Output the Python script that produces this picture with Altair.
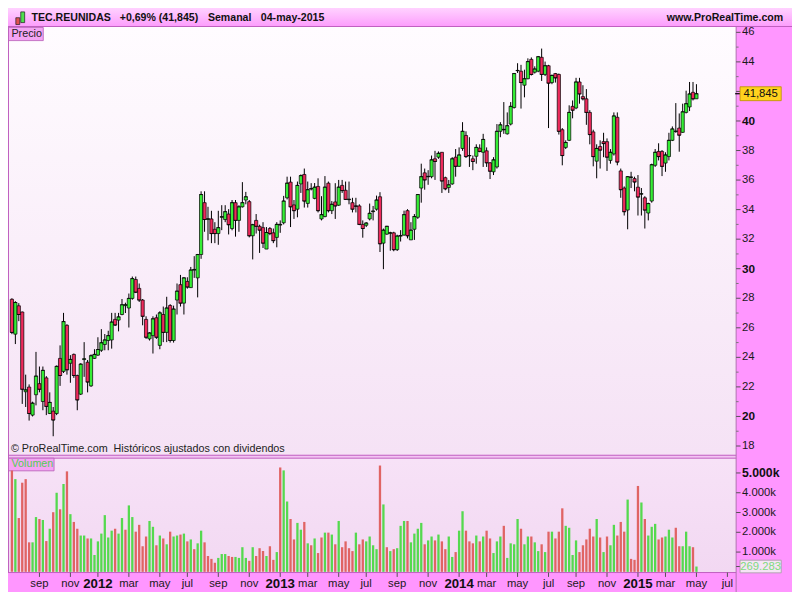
import altair as alt
import pandas as pd

# ------------------------------------------------------------------ data
START = "2011-07-11"   # first weekly candle (Monday)

opens = [27.93, 25.57, 27.49, 27.07, 21.67, 21.99, 20.09, 21.47, 22.22, 21.01,
         22.61, 20.20, 20.36, 20.20, 23.93, 23.05, 26.17, 23.60, 24.20, 22.77,
         21.51, 23.85, 23.67, 22.07, 23.93, 24.15, 24.48, 24.87, 25.14, 25.18,
         26.57, 26.52, 26.90, 27.50, 27.34, 27.99, 29.27, 28.67, 27.88, 26.57,
         25.25, 25.47, 26.68, 24.81, 26.90, 25.69, 27.51, 25.14, 27.88, 28.92,
         27.67, 29.14, 28.72, 29.90, 29.38, 30.96, 34.47, 33.33, 33.37, 32.67,
         32.38, 33.48, 33.33, 33.70, 32.72, 34.47, 33.27, 34.19, 34.65, 34.54,
         32.23, 33.27, 32.87, 32.78, 31.33, 32.72, 32.43, 32.12, 32.95, 33.11,
         34.80, 35.86, 34.32, 34.03, 35.74, 36.38, 34.42, 35.40, 34.76, 35.57,
         33.37, 33.53, 35.79, 33.93, 34.52, 34.30, 35.64, 35.31, 34.67, 34.47,
         34.25, 34.25, 33.00, 32.94, 33.37, 33.86, 34.03, 34.87, 31.73, 32.34,
         32.40, 32.43, 31.29, 32.20, 32.28, 33.93, 31.95, 32.67, 33.48, 35.46,
         36.49, 36.22, 36.23, 37.44, 37.55, 37.88, 36.16, 35.50, 35.74, 37.55,
         36.93, 38.14, 39.02, 37.64, 37.44, 37.61, 38.16, 37.88, 37.98, 37.17,
         36.56, 36.89, 39.30, 39.40, 39.13, 39.79, 40.91, 43.40, 43.37, 42.42,
         42.86, 44.17, 43.30, 43.37, 44.31, 43.15, 43.74, 42.60, 43.21, 43.15,
         39.41, 38.21, 38.69, 40.99, 40.88, 42.64, 41.65, 41.50, 40.58, 39.26,
         37.28, 38.27, 38.60, 38.60, 37.33, 37.77, 40.25, 36.62, 35.46, 33.97,
         36.18, 36.10, 35.52, 35.05, 34.80, 33.77, 34.58, 37.00, 37.94, 37.94,
         37.15, 37.59, 38.69, 39.28, 39.52, 39.23, 40.58, 40.95, 41.94, 41.50]

highs = [28.00, 27.80, 27.67, 27.10, 22.83, 22.17, 21.00, 24.37, 23.38, 23.38,
         22.73, 21.63, 20.64, 23.45, 24.81, 27.01, 26.24, 24.15, 24.26, 22.83,
         23.60, 25.03, 23.82, 24.20, 24.55, 25.36, 25.91, 25.58, 25.80, 27.01,
         27.01, 27.01, 27.95, 27.70, 28.32, 29.47, 29.47, 29.00, 27.95, 26.78,
         25.70, 26.78, 26.90, 27.12, 27.44, 28.10, 27.60, 27.50, 29.00, 29.58,
         29.42, 29.42, 30.12, 30.85, 31.00, 35.24, 35.24, 34.19, 33.92, 33.15,
         33.92, 34.30, 34.30, 34.03, 34.65, 34.65, 34.30, 35.86, 35.20, 34.65,
         33.04, 33.70, 32.98, 33.15, 32.82, 32.82, 32.72, 33.15, 33.27, 34.93,
         36.23, 36.23, 34.65, 35.90, 36.38, 36.78, 35.90, 35.79, 35.80, 36.12,
         34.91, 36.27, 35.90, 34.58, 35.79, 36.01, 36.01, 35.90, 35.90, 34.80,
         34.80, 34.36, 33.27, 33.15, 34.41, 34.25, 34.95, 35.18, 32.72, 32.90,
         32.50, 32.50, 32.30, 32.61, 33.93, 34.03, 33.15, 33.70, 35.05, 37.11,
         36.78, 36.67, 37.66, 37.98, 37.94, 37.90, 36.23, 36.01, 37.55, 38.10,
         38.21, 39.92, 39.30, 38.90, 37.66, 38.42, 38.42, 39.13, 38.21, 37.22,
         37.55, 39.79, 39.92, 41.28, 40.58, 41.28, 43.25, 43.91, 43.80, 43.47,
         44.24, 44.30, 43.70, 44.40, 44.90, 44.02, 43.80, 43.15, 43.25, 43.21,
         39.52, 38.69, 41.06, 41.39, 42.92, 42.92, 42.42, 42.16, 40.73, 39.41,
         38.42, 38.69, 39.20, 38.82, 38.10, 40.58, 40.58, 36.78, 35.57, 36.27,
         36.56, 36.23, 36.34, 35.46, 34.91, 34.47, 37.11, 38.10, 38.49, 38.03,
         37.88, 39.20, 39.63, 41.21, 40.51, 41.17, 42.05, 42.64, 42.64, 42.49]

lows = [25.57, 24.90, 26.45, 20.85, 20.64, 19.72, 20.00, 20.75, 21.63, 20.42,
        20.09, 20.16, 18.66, 20.09, 22.07, 22.94, 22.83, 22.28, 22.61, 20.42,
        21.45, 22.68, 21.63, 22.00, 23.90, 24.10, 24.37, 24.48, 24.48, 24.59,
        26.12, 25.76, 26.85, 27.00, 26.02, 27.90, 28.35, 27.75, 26.17, 25.25,
        25.14, 24.26, 25.25, 24.55, 25.03, 25.03, 25.00, 25.00, 26.90, 27.44,
        26.90, 28.65, 28.70, 29.38, 28.06, 30.67, 32.50, 31.92, 31.73, 31.73,
        31.62, 32.61, 33.15, 32.32, 32.60, 32.17, 32.50, 34.14, 34.36, 32.12,
        30.63, 32.38, 31.07, 31.40, 31.33, 32.27, 31.73, 31.45, 32.43, 33.00,
        34.69, 32.82, 33.37, 33.48, 35.13, 34.14, 34.14, 35.30, 34.70, 33.81,
        33.27, 33.48, 33.81, 33.70, 33.37, 34.25, 35.13, 34.65, 34.36, 33.81,
        33.81, 32.95, 32.10, 32.82, 33.27, 33.27, 33.93, 31.13, 29.97, 32.30,
        31.22, 31.18, 31.20, 31.84, 32.23, 32.05, 31.95, 31.95, 33.37, 34.47,
        35.35, 35.68, 36.12, 36.01, 37.44, 35.13, 35.31, 35.13, 35.68, 36.23,
        36.90, 37.98, 37.50, 36.89, 36.67, 37.11, 37.88, 36.89, 36.89, 36.07,
        36.34, 36.78, 38.90, 39.13, 39.08, 39.70, 40.84, 43.25, 40.84, 41.60,
        42.82, 43.08, 43.21, 43.30, 42.71, 43.04, 39.52, 42.49, 42.60, 39.08,
        37.00, 38.10, 38.64, 40.18, 40.80, 41.17, 41.39, 39.74, 38.42, 36.93,
        36.12, 36.78, 37.55, 36.62, 37.11, 37.66, 37.00, 34.80, 33.60, 32.67,
        35.46, 35.24, 33.60, 33.60, 32.72, 33.27, 34.47, 36.89, 37.33, 36.27,
        36.56, 37.33, 38.64, 39.20, 37.92, 39.20, 40.51, 40.67, 41.39, 41.50]

closes = [25.69, 27.71, 26.90, 21.84, 21.80, 20.20, 20.90, 22.73, 21.84, 23.12,
          20.68, 20.95, 19.76, 23.39, 22.77, 26.42, 23.16, 23.86, 22.77, 21.12,
          23.54, 23.90, 22.33, 24.11, 24.20, 24.53, 24.99, 25.18, 25.47, 26.39,
          26.19, 26.74, 27.56, 27.56, 27.99, 29.33, 28.41, 27.88, 26.78, 25.36,
          25.65, 26.61, 25.36, 27.01, 25.69, 27.34, 25.14, 27.27, 28.48, 27.67,
          29.38, 28.76, 29.91, 29.95, 30.96, 35.02, 33.33, 33.38, 32.38, 32.38,
          32.78, 33.52, 33.86, 32.98, 34.47, 33.27, 34.19, 34.47, 34.87, 32.23,
          32.98, 32.87, 32.61, 31.73, 32.45, 32.38, 31.90, 33.00, 33.00, 34.58,
          35.79, 34.19, 33.93, 35.64, 36.30, 34.58, 35.35, 35.42, 35.52, 33.93,
          33.66, 35.52, 33.93, 34.36, 34.25, 35.52, 35.29, 34.69, 34.70, 34.03,
          34.23, 33.00, 32.72, 33.09, 33.75, 33.90, 34.65, 31.69, 32.61, 32.87,
          32.43, 31.29, 32.21, 32.25, 33.66, 32.23, 32.61, 33.53, 35.02, 36.23,
          36.01, 36.25, 37.37, 37.26, 37.81, 35.94, 35.41, 35.68, 37.44, 36.93,
          37.70, 39.30, 37.59, 37.66, 37.26, 38.21, 37.94, 38.75, 37.17, 36.60,
          37.37, 39.30, 39.74, 39.43, 39.68, 40.99, 43.21, 43.42, 42.60, 42.86,
          44.02, 43.15, 43.52, 44.35, 43.15, 43.74, 42.56, 43.08, 42.92, 39.30,
          37.66, 38.54, 40.58, 40.73, 42.64, 41.83, 41.50, 40.58, 39.08, 37.59,
          38.14, 38.03, 38.47, 37.55, 37.88, 40.34, 37.22, 35.35, 33.86, 36.23,
          36.20, 35.87, 34.85, 35.07, 33.97, 34.41, 37.04, 37.88, 37.59, 36.93,
          37.70, 38.69, 39.46, 39.31, 39.04, 40.62, 41.17, 41.83, 41.50, 41.845]

# weekly volume, thousands of shares
volumes = [5130, 4688, 2721, 4507, 4688, 1492, 1492, 2770, 2672, 2622,
           1557, 2180, 3016, 3999, 3163, 4442, 5081, 2917, 2524, 2180,
           1836, 1836, 1688, 1688, 852, 1541, 1934, 2868, 1737, 2082,
           2180, 1934, 2721, 2131, 3360, 2770, 2032, 2377, 1295, 1787,
           2573, 2278, 1344, 1836, 1688, 1393, 2032, 1787, 1836, 1885,
           1934, 1541, 1639, 1147, 1442, 2082, 1492, 803, 656, 459,
           705, 901, 901, 803, 754, 754, 705, 1246, 705, 557,
           1246, 803, 1196, 1049, 803, 1295, 606, 1000, 5278, 5130,
           3557, 2672, 1639, 2475, 2131, 2524, 1442, 1344, 1688, 951,
           1737, 1983, 1983, 1885, 1393, 2573, 1246, 1541, 1196, 1049,
           1983, 1393, 1639, 1541, 1787, 1344, 1147, 5376, 3409, 1246,
           1049, 1147, 1196, 2327, 2573, 2573, 1492, 1934, 2180, 2475,
           1393, 1590, 1787, 1590, 1885, 1541, 1147, 1787, 754, 1000,
           2082, 3065, 2082, 1541, 1442, 1836, 1541, 1787, 2082, 1688,
           951, 1541, 1787, 2327, 705, 1442, 1393, 2672, 2180, 1393,
           1787, 1787, 1492, 1049, 1393, 1000, 2032, 2032, 1688, 2032,
           3212, 2327, 2229, 852, 1590, 1000, 1344, 1639, 2180, 1787,
           2672, 1737, 1000, 1787, 1344, 2377, 1836, 2524, 2032, 3655,
           656, 606, 4343, 3507, 2672, 1836, 2278, 2426, 1639, 1737,
           1787, 2131, 1737, 2229, 1295, 1295, 2032, 1295, 1246, 269.283]

# colour of each volume bar: r = down week, g = up week
vol_dirs = list("rgrrrrggrg" "rgrgrgrgrr" "ggrggggggg" "rggrggrrrr" "ggrgrgrggr"
                "grgrggrrrr" "gggrrggggr" "grrrgrrgrg" "grrggrgrgr" "rgrgrgrrrr"
                "grrggggrgr" "grgggrgggg" "rggrgrrggr" "ggrrrgrgrr" "gggrggggrg"
                "grggrgrgrr" "rggggrrrrr" "grgrggrrrg" "rrrgrgggrr" "gggrrgggrg")

month_dates = ["2011-09-05", "2011-11-07", "2012-01-02", "2012-03-05", "2012-05-07",
               "2012-07-02", "2012-09-03", "2012-11-05", "2013-01-07", "2013-03-04",
               "2013-05-06", "2013-07-01", "2013-09-02", "2013-11-04", "2014-01-06",
               "2014-03-03", "2014-05-05", "2014-07-07", "2014-09-01", "2014-11-03",
               "2015-01-05", "2015-03-02", "2015-05-04", "2015-07-06"]
month_labels = ["sep", "nov", "2012", "mar", "may", "jul", "sep", "nov", "2013", "mar",
                "may", "jul", "sep", "nov", "2014", "mar", "may", "jul", "sep", "nov",
                "2015", "mar", "may", "jul"]

price_ticks = list(range(18, 47))
price_labels = [18, 20, 22, 24, 26, 28, 30, 32, 34, 36, 38, 40, 44, 46]
price_bold = [20, 30, 40]
vol_ticks = [1000, 2000, 3000, 4000, 5000]
vol_labels = ["1.000k", "2.000k", "3.000k", "4.000k", "5.000k"]
last_price = 41.845
last_price_text = "41,845"
last_volume = 269.283
last_volume_text = "269.283"

title_parts = ["TEC.REUNIDAS", "+0,69% (41,845)", "Semanal", "04-may-2015"]
site_text = "www.ProRealTime.com"
footer_text = "\u00a9 ProRealTime.com\u00a0 Hist\u00f3ricos ajustados con dividendos"

# ------------------------------------------------------------------ layout
SX = 0.98
SY = 584 / 600
W = 728
H = 565
FONT = "Liberation Sans"

UP, DOWN = "#35ee35", "#ee2a5c"
VUP, VDOWN = "#55d94f", "#e06464"
PINK = "#ff96ff"
LINE = "#c060c0"


def X(v):
    return v * SX


def Y(v):
    return v * SY


start = pd.Timestamp(START)
t0 = start - pd.Timedelta(days=4 * 7 / 3.51)
t1 = start + pd.Timedelta(days=(743 - 4) * 7 / 3.51)
ms = lambda t: int(t.value // 10**6)
XS = alt.Scale(domain=[ms(t0), ms(t1)], range=[0, X(743)], nice=False, padding=0)
PY = alt.Scale(domain=[18, 46], range=[Y(450), Y(25)], zero=False, nice=False, padding=0)
VY = alt.Scale(domain=[0, 5000], range=[Y(579.3), Y(477.7)], nice=False, padding=0)

dates = pd.date_range(START, periods=len(opens), freq="7D").strftime("%Y-%m-%d").tolist()
df = pd.DataFrame({"date": dates, "open": opens, "high": highs, "low": lows,
                   "close": closes, "volume": volumes})
df["body"] = [UP if c >= o else DOWN for o, c in zip(opens, closes)]
df["vcol"] = [VUP if d == "g" else VDOWN for d in vol_dirs]

one = pd.DataFrame({"k": [0]})
xd = alt.X("date:T", scale=XS, axis=None)


def box(x1, x2, y1, y2, **kw):
    return alt.Chart(one).mark_rect(**kw).encode(
        x=alt.value(X(x1)), x2=alt.value(X(x2)), y=alt.value(Y(y1)), y2=alt.value(Y(y2)))


def hline(x1, x2, y, color=LINE, w=1.0):
    return alt.Chart(one).mark_rule(color=color, strokeWidth=w).encode(
        x=alt.value(X(x1)), x2=alt.value(X(x2)), y=alt.value(Y(y)))


def vline(x, y1, y2, color=LINE, w=1.0):
    return alt.Chart(one).mark_rule(color=color, strokeWidth=w).encode(
        x=alt.value(X(x)), y=alt.value(Y(y1)), y2=alt.value(Y(y2)))


def label(text, x, y, size=11, weight="normal", color="#1a1a1a", align="left"):
    return alt.Chart(one).mark_text(text=text, font=FONT, fontSize=size * SX,
                                    fontWeight=weight, color=color, align=align,
                                    baseline="middle").encode(
        x=alt.value(X(x)), y=alt.value(Y(y)))


grad = lambda a, b: {"gradient": "linear", "x1": 0, "y1": 0, "x2": 0, "y2": 1,
                     "stops": [{"offset": 0, "color": a}, {"offset": 1, "color": b}]}

layers = []
# backgrounds
layers.append(box(0, 800, 0, 19, fill=grad("#ffd2ff", "#fc9dfc")))
layers.append(box(0, 743, 19, 459, fill=grad("#fffcff", "#f5e2f5")))
layers.append(box(0, 743, 459, 463, fill="#f3c4f3"))
layers.append(box(0, 743, 463, 580, fill=grad("#f7e2f7", "#f2d8f2")))
layers.append(box(743, 800, 19, 600, fill=PINK))
layers.append(box(0, 743, 580, 600, fill=PINK))
layers.append(hline(0, 800, 19))
layers.append(hline(0, 743, 459.5))
layers.append(hline(0, 743, 462.5))
layers.append(hline(0, 743, 580))
layers.append(vline(0.5, 19, 580))
layers.append(vline(743, 19, 600, color="#b070b0"))

# header
layers.append(box(8, 12, 10, 17, fill="#e05050", stroke="#202020", strokeWidth=0.7))
layers.append(box(13, 17, 4, 15, fill="#4de04d", stroke="#202020", strokeWidth=0.7))
for txt, xx in zip(title_parts, [24, 114, 204, 258]):
    layers.append(label(txt, xx, 10, size=10.8, weight="bold", color="#111111"))
layers.append(label(site_text, 791, 10, size=10.8, weight="bold", color="#111111", align="right"))

# panel captions
layers.append(box(0.5, 36, 20, 33.5, fill="#f4a4f4", stroke="#b65ab6", strokeWidth=0.8))
layers.append(label("Precio", 3.5, 27, size=11, color="#222222"))
layers.append(label(footer_text, 3, 453, size=11, color="#222222"))
layers.append(box(0.5, 47, 462.5, 475.5, fill="#f4a4f4", stroke="#b65ab6", strokeWidth=0.8))
layers.append(label("Volumen", 3.5, 469, size=11, color="#55cc55"))

# volume bars
layers.append(alt.Chart(df).mark_bar(size=2.3).encode(
    x=xd, y=alt.Y("volume:Q", scale=VY, axis=None),
    fill=alt.Fill("vcol:N", scale=None)))

# candles
layers.append(alt.Chart(df).mark_rule(color="#000000", strokeWidth=1).encode(
    x=xd, y=alt.Y("low:Q", scale=PY, axis=None), y2="high:Q"))
layers.append(alt.Chart(df).mark_bar(size=3.2, stroke="#000000", strokeWidth=0.7).encode(
    x=xd, y=alt.Y("open:Q", scale=PY, axis=None), y2="close:Q",
    fill=alt.Fill("body:N", scale=None)))
layers.append(alt.Chart(df).mark_tick(color="#000000", size=3.6, thickness=1,
                                      orient="horizontal").encode(
    x=xd, y=alt.Y("close:Q", scale=PY, axis=None)))

# price axis (right)
pt = pd.DataFrame({"v": price_ticks})
pt_even = pt[pt.v % 2 == 0]
pt_odd = pt[pt.v % 2 == 1]
layers.append(alt.Chart(pt_even).mark_rule(color="#555555").encode(
    x=alt.value(X(743)), x2=alt.value(X(747.5)), y=alt.Y("v:Q", scale=PY, axis=None)))
layers.append(alt.Chart(pt_odd).mark_rule(color="#777777").encode(
    x=alt.value(X(743)), x2=alt.value(X(745.5)), y=alt.Y("v:Q", scale=PY, axis=None)))
pl = pd.DataFrame({"v": price_labels, "t": [str(v) for v in price_labels]})
pl_norm = pl[~pl.v.isin(price_bold)]
pl_bold = pl[pl.v.isin(price_bold)]
layers.append(alt.Chart(pl_norm).mark_text(font=FONT, fontSize=11.5 * SX, align="left",
                                           baseline="middle", color="#1a1a1a").encode(
    x=alt.value(X(749)), y=alt.Y("v:Q", scale=PY, axis=None), text="t:N"))
layers.append(alt.Chart(pl_bold).mark_text(font=FONT, fontSize=12 * SX, fontWeight="bold",
                                           align="left", baseline="middle",
                                           color="#111111").encode(
    x=alt.value(X(749)), y=alt.Y("v:Q", scale=PY, axis=None), text="t:N"))

# last price box
lp = pd.DataFrame({"v": [last_price], "lo": [last_price - 0.47], "hi": [last_price + 0.47],
                   "t": [last_price_text]})
layers.append(alt.Chart(lp).mark_rule(color="#000000", strokeWidth=1.2).encode(
    x=alt.value(X(742)), x2=alt.value(X(747)), y=alt.Y("v:Q", scale=PY, axis=None)))
layers.append(alt.Chart(lp).mark_rect(fill="#ffd21e", stroke="#b98f00", strokeWidth=0.8).encode(
    x=alt.value(X(747)), x2=alt.value(X(789)), y=alt.Y("lo:Q", scale=PY, axis=None), y2="hi:Q"))
layers.append(alt.Chart(lp).mark_text(font=FONT, fontSize=11.5 * SX, align="center",
                                      baseline="middle", color="#111111").encode(
    x=alt.value(X(768)), y=alt.Y("v:Q", scale=PY, axis=None), text="t:N"))

# volume axis (right)
vt = pd.DataFrame({"v": vol_ticks, "t": vol_labels})
layers.append(alt.Chart(vt).mark_rule(color="#555555").encode(
    x=alt.value(X(743)), x2=alt.value(X(747.5)), y=alt.Y("v:Q", scale=VY, axis=None)))
layers.append(alt.Chart(vt[vt.v < 5000]).mark_text(font=FONT, fontSize=11.5 * SX, align="left",
                                                   baseline="middle", color="#1a1a1a").encode(
    x=alt.value(X(749)), y=alt.Y("v:Q", scale=VY, axis=None), text="t:N"))
layers.append(alt.Chart(vt[vt.v == 5000]).mark_text(font=FONT, fontSize=12.5 * SX,
                                                    fontWeight="bold", align="left",
                                                    baseline="middle", color="#111111").encode(
    x=alt.value(X(749)), y=alt.Y("v:Q", scale=VY, axis=None), text="t:N"))
lv = pd.DataFrame({"v": [last_volume], "lo": [last_volume - 320], "hi": [last_volume + 320],
                   "t": [last_volume_text]})
layers.append(alt.Chart(lv).mark_rule(color="#555555").encode(
    x=alt.value(X(743)), x2=alt.value(X(747)), y=alt.Y("v:Q", scale=VY, axis=None)))
layers.append(alt.Chart(lv).mark_rect(fill="#f6e4f6", stroke="#a0a0a0", strokeWidth=0.8).encode(
    x=alt.value(X(747)), x2=alt.value(X(789)), y=alt.Y("lo:Q", scale=VY, axis=None), y2="hi:Q"))
layers.append(alt.Chart(lv).mark_text(font=FONT, fontSize=11.5 * SX, align="center",
                                      baseline="middle", color="#7edb7e").encode(
    x=alt.value(X(768)), y=alt.Y("v:Q", scale=VY, axis=None), text="t:N"))

# time axis (bottom)
md = pd.DataFrame({"date": month_dates, "t": month_labels})
md["year"] = md.t.str.len() == 4
layers.append(alt.Chart(md).mark_rule(color="#555555").encode(
    x=xd, y=alt.value(Y(580)), y2=alt.value(Y(584.5))))
layers.append(alt.Chart(md[~md.year]).mark_text(font=FONT, fontSize=11.5 * SX, align="center",
                                                baseline="middle", color="#1a1a1a").encode(
    x=xd, y=alt.value(Y(592)), text="t:N"))
layers.append(alt.Chart(md[md.year]).mark_text(font=FONT, fontSize=13.5 * SX, fontWeight="bold",
                                               align="center", baseline="middle",
                                               color="#111111").encode(
    x=xd, y=alt.value(Y(592)), text="t:N"))

chart = alt.layer(*layers).resolve_scale(y="independent").properties(
    width=W, height=H,
    padding={"left": 0, "top": 0, "right": 784 - W, "bottom": 584 - H},
    autosize=alt.AutoSizeParams(type="none"),
    background="#ffffff",
).configure_view(stroke=None)

chart.save("out.html", embed_options={"renderer": "svg", "actions": False})
